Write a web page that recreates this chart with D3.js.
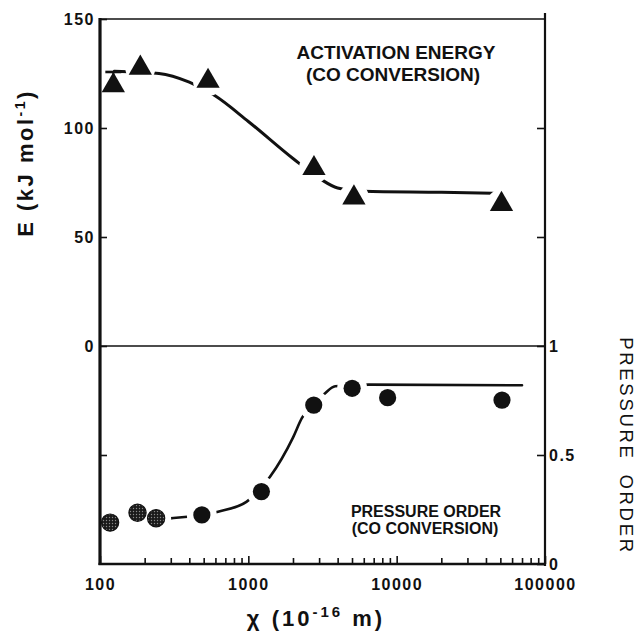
<!DOCTYPE html>
<html>
<head>
<meta charset="utf-8">
<script src="https://cdn.jsdelivr.net/npm/d3@7"></script>
<style>
body { margin: 0; background: #fff; }
text { font-family: "Liberation Sans", Arial, sans-serif; fill: #111; }
</style>
</head>
<body>
<div id="chart"></div>
<script>
var w = 636;
var h = 635;

// activation energy, kJ/mol (triangles)
var energyX = [123, 187, 535, 2770, 5150, 50900];
var energyY = [119.5, 127.5, 121.5, 81.5, 68, 65];
var energyErrX = [123];
var energyErrTop = [125.7];
var energyFitX = [125, 250, 400, 590, 1000, 2000, 3000, 4000, 6000, 20000, 47000];
var energyFitY = [126, 125, 121, 115, 103, 86, 77, 72.5, 71, 70.5, 70];

// pressure order (circles)
var orderShadedX = [117, 179, 239];
var orderShadedY = [0.19, 0.235, 0.21];
var orderX = [486, 1225, 2760, 5010, 8690, 51300];
var orderY = [0.225, 0.332, 0.729, 0.806, 0.763, 0.752];
var orderFitX = [220, 300, 625, 970, 1400, 2000, 2300, 2800, 3250, 3850, 6500, 70000];
var orderFitY = [0.205, 0.21, 0.24, 0.285, 0.40, 0.58, 0.67, 0.74, 0.78, 0.815, 0.823, 0.82];

var energyTicks = [0, 50, 100, 150];
var energyInnerTicks = [50, 100];
var orderTicks = [0, 0.5, 1];
var orderInnerTicks = [0.5];
var xMajor = [100, 1000, 10000, 100000];

var padL = 100, padR = 545, padT = 19, midY = 346, padB = 564;

var svg = d3.select("#chart")
	.append("svg")
	.attr("width", w)
	.attr("height", h);

var defs = svg.append("defs");
var pat = defs.append("pattern")
	.attr("id", "dots")
	.attr("width", 3)
	.attr("height", 3)
	.attr("patternUnits", "userSpaceOnUse");
pat.append("rect").attr("width", 3).attr("height", 3).attr("fill", "#1a1a1a");
pat.append("circle").attr("cx", 1.5).attr("cy", 1.5).attr("r", 0.7).attr("fill", "#888");

var xScale = d3.scaleLog()
	.domain([100, 100000])
	.range([padL, padR]);

var yE = d3.scaleLinear()
	.domain([0, 150])
	.range([midY, padT]);

var yP = d3.scaleLinear()
	.domain([0, 1])
	.range([padB, midY]);

// fitted curves
var lineE = d3.line()
	.x(function(d) { return xScale(d[0]); })
	.y(function(d) { return yE(d[1]); })
	.curve(d3.curveMonotoneX);

var lineP = d3.line()
	.x(function(d) { return xScale(d[0]); })
	.y(function(d) { return yP(d[1]); })
	.curve(d3.curveMonotoneX);

svg.append("path")
	.datum(d3.zip(energyFitX, energyFitY))
	.attr("d", lineE)
	.attr("fill", "none")
	.attr("stroke", "#111")
	.attr("stroke-width", 3)
	.attr("stroke-linecap", "round");

svg.append("path")
	.datum(d3.zip(orderFitX, orderFitY))
	.attr("d", lineP)
	.attr("fill", "none")
	.attr("stroke", "#111")
	.attr("stroke-width", 2.6)
	.attr("stroke-linecap", "round");

// white halos break the curve around markers that sit on it
var ePts = d3.zip(energyX, energyY);
var pShaded = d3.zip(orderShadedX, orderShadedY);
var pPts = d3.zip(orderX, orderY);

var fitE = d3.scaleLog().domain(energyFitX).range(energyFitY).clamp(true);
var fitP = d3.scaleLog().domain(orderFitX).range(orderFitY).clamp(true);

svg.selectAll("circle.haloE")
	.data(ePts.filter(function(d) { return Math.abs(yE(fitE(d[0])) - yE(d[1])) < 12; }))
	.enter()
	.append("circle")
	.attr("cx", function(d) { return xScale(d[0]); })
	.attr("cy", function(d) { return yE(d[1]); })
	.attr("r", 15)
	.attr("fill", "#fff");

svg.selectAll("circle.haloP")
	.data(pShaded.concat(pPts).filter(function(d) { return Math.abs(yP(fitP(d[0])) - yP(d[1])) < 11; }))
	.enter()
	.append("circle")
	.attr("cx", function(d) { return xScale(d[0]); })
	.attr("cy", function(d) { return yP(d[1]); })
	.attr("r", 15)
	.attr("fill", "#fff");

// frame
function hline(y, x1, x2, sw) {
	svg.append("line").attr("x1", x1).attr("x2", x2).attr("y1", y).attr("y2", y)
		.attr("stroke", "#111").attr("stroke-width", sw);
}
function vline(x, y1, y2, sw) {
	svg.append("line").attr("x1", x).attr("x2", x).attr("y1", y1).attr("y2", y2)
		.attr("stroke", "#111").attr("stroke-width", sw);
}
hline(padT, padL, padR, 1.6);
hline(midY, padL, padR, 1.6);
hline(padB, padL - 1.5, padR, 2.6);
vline(padL, padT - 1, padB + 1, 3.2);
vline(padR, padT - 6, padB + 2, 2.2);

function styleAxis(g) {
	g.select(".domain").remove();
	g.selectAll(".tick line").attr("stroke", "#111").attr("stroke-width", 1.6);
	g.selectAll("text")
		.style("font-family", "'Liberation Sans', Arial, sans-serif")
		.style("font-size", "16px")
		.style("font-weight", "bold")
		.style("letter-spacing", "1.5px")
		.attr("fill", "#111");
}

svg.append("g")
	.attr("transform", "translate(" + padL + ",0)")
	.call(d3.axisLeft(yE).tickValues(energyTicks).tickSize(-7).tickSizeOuter(0).tickPadding(5).tickFormat(d3.format("d")))
	.call(styleAxis);

svg.append("g")
	.attr("transform", "translate(" + padR + ",0)")
	.call(d3.axisRight(yE).tickValues(energyInnerTicks).tickSize(-8).tickSizeOuter(0).tickFormat(""))
	.call(styleAxis);

svg.append("g")
	.attr("transform", "translate(" + padL + ",0)")
	.call(d3.axisLeft(yP).tickValues(orderInnerTicks).tickSize(-7).tickSizeOuter(0).tickFormat(""))
	.call(styleAxis);

svg.append("g")
	.attr("transform", "translate(" + padR + ",0)")
	.call(d3.axisRight(yP).tickValues(orderTicks).tickSize(-8).tickSizeOuter(0).tickPadding(4).tickFormat(d3.format("")))
	.call(styleAxis);

var xMinor = xScale.ticks().filter(function(d) { return xMajor.indexOf(d) < 0; });

svg.append("g")
	.attr("transform", "translate(0," + padB + ")")
	.call(d3.axisBottom(xScale).tickValues(xMajor).tickSize(-8).tickSizeOuter(0).tickPadding(15).tickFormat(d3.format("d")))
	.call(styleAxis);

svg.append("g")
	.attr("transform", "translate(0," + padB + ")")
	.call(d3.axisBottom(xScale).tickValues(xMinor).tickSize(-6).tickSizeOuter(0).tickFormat(""))
	.call(styleAxis);

// markers
var tri = d3.symbol().type(d3.symbolTriangle).size(235);

svg.selectAll("path.tri")
	.data(ePts)
	.enter()
	.append("path")
	.attr("class", "tri")
	.attr("d", tri)
	.attr("transform", function(d) { return "translate(" + xScale(d[0]) + "," + yE(d[1]) + ")"; })
	.attr("fill", "#111");

svg.selectAll("g.err")
	.data(d3.zip(energyErrX, energyErrTop))
	.enter()
	.append("g")
	.each(function(d) {
		var g = d3.select(this);
		var cx = xScale(d[0]);
		g.append("line").attr("x1", cx - 8).attr("x2", cx + 8)
			.attr("y1", yE(d[1])).attr("y2", yE(d[1]))
			.attr("stroke", "#111").attr("stroke-width", 2.6);
		g.append("line").attr("x1", cx).attr("x2", cx)
			.attr("y1", yE(d[1])).attr("y2", yE(d[1]) + 4)
			.attr("stroke", "#111").attr("stroke-width", 2);
	});

svg.selectAll("circle.shaded")
	.data(pShaded)
	.enter()
	.append("circle")
	.attr("cx", function(d) { return xScale(d[0]); })
	.attr("cy", function(d) { return yP(d[1]); })
	.attr("r", 8.6)
	.attr("fill", "url(#dots)")
	.attr("stroke", "#111")
	.attr("stroke-width", 1.2);

svg.selectAll("circle.solid")
	.data(pPts)
	.enter()
	.append("circle")
	.attr("cx", function(d) { return xScale(d[0]); })
	.attr("cy", function(d) { return yP(d[1]); })
	.attr("r", 8.6)
	.attr("fill", "#111");

// panel labels
function label(x, y, txt, size) {
	svg.append("text")
		.attr("x", x).attr("y", y)
		.attr("text-anchor", "middle")
		.style("font-size", size + "px")
		.style("font-weight", "bold")
		.text(txt);
}
label(396, 58.5, "ACTIVATION ENERGY", 19);
label(393, 80.5, "(CO CONVERSION)", 19);
label(426, 517, "PRESSURE ORDER", 16);
label(425, 534, "(CO CONVERSION)", 16);

// axis titles
var yt = svg.append("text")
	.attr("transform", "translate(33,163) rotate(-90)")
	.attr("text-anchor", "middle")
	.style("font-size", "22px")
	.style("font-weight", "bold")
	.style("letter-spacing", "2.5px");
yt.append("tspan").text("E (kJ mol");
yt.append("tspan").attr("dy", -8).style("font-size", "14px").text("-1");
yt.append("tspan").attr("dy", 8).text(")");

var xt = svg.append("text")
	.attr("x", 316).attr("y", 626)
	.attr("text-anchor", "middle")
	.style("font-size", "22px")
	.style("font-weight", "bold")
	.style("letter-spacing", "3px");
xt.append("tspan").text("\u03c7 (10");
xt.append("tspan").attr("dy", -9).style("font-size", "15px").text("-16");
xt.append("tspan").attr("dy", 9).text(" m)");

svg.append("text")
	.attr("transform", "translate(620,446) rotate(90)")
	.attr("text-anchor", "middle")
	.style("font-size", "18.5px")
	.style("letter-spacing", "2.7px")
	.style("word-spacing", "6px")
	.text("PRESSURE ORDER");
</script>
</body>
</html>
